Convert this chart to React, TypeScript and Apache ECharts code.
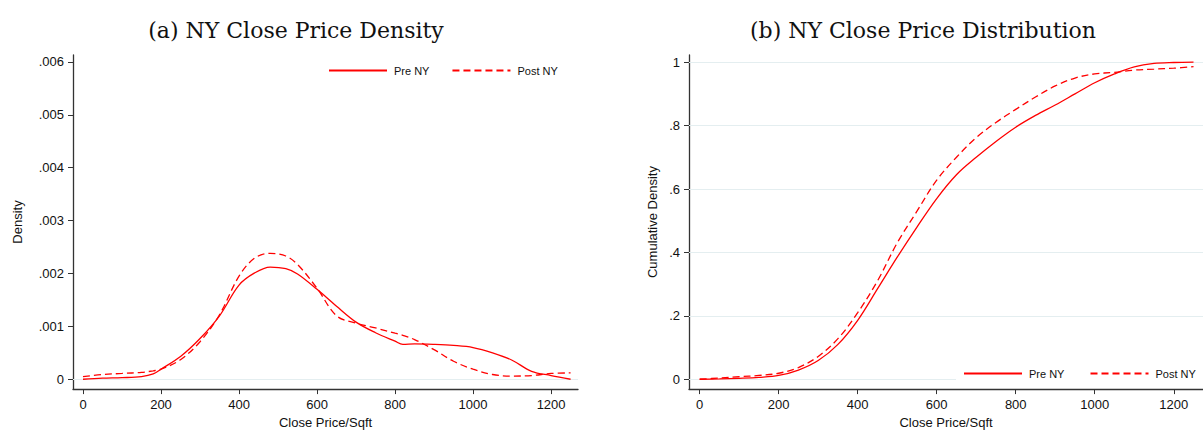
import React, { useEffect, useRef } from "react";
import * as echarts from "echarts";

const densX = [0, 50, 100, 150, 180, 200, 250, 300, 350, 400, 440, 480, 520, 550, 600, 650, 700, 750, 800, 820, 850, 900, 950, 1000, 1050, 1100, 1150, 1200, 1250];
const preDensity = [0.0, 0.00002, 0.00003, 0.00005, 0.0001, 0.00019, 0.00043, 0.00077, 0.0012, 0.00178, 0.00201, 0.00212, 0.00209, 0.00199, 0.0017, 0.00138, 0.00108, 0.00088, 0.00072, 0.00066, 0.00067, 0.00066, 0.00064, 0.0006, 0.0005, 0.00036, 0.00015, 0.00007, 0.0];
const postDensity = [0.00005, 0.00009, 0.00011, 0.00013, 0.00016, 0.00019, 0.00037, 0.00071, 0.00122, 0.00195, 0.00229, 0.00238, 0.00233, 0.00217, 0.00172, 0.0012, 0.00106, 0.00097, 0.00087, 0.00083, 0.00075, 0.00056, 0.00034, 0.00019, 0.00009, 0.00006, 0.00007, 0.00011, 0.00012];

const cdfX = [0, 50, 100, 150, 200, 250, 300, 350, 400, 450, 500, 550, 600, 650, 700, 750, 800, 850, 900, 950, 1000, 1050, 1100, 1150, 1200, 1250];
const preCdf = [0, 0.001, 0.003, 0.006, 0.012, 0.029, 0.059, 0.11, 0.186, 0.285, 0.385, 0.48, 0.57, 0.645, 0.7, 0.75, 0.795, 0.832, 0.865, 0.9, 0.935, 0.963, 0.985, 0.996, 0.999, 1.0];
const postCdf = [0, 0.004, 0.008, 0.012, 0.019, 0.037, 0.072, 0.128, 0.21, 0.31, 0.43, 0.53, 0.628, 0.7, 0.762, 0.81, 0.851, 0.89, 0.925, 0.95, 0.963, 0.968, 0.975, 0.978, 0.981, 0.986];

const xTicks = [0, 200, 400, 600, 800, 1000, 1200];
const densTicks = [0, 0.001, 0.002, 0.003, 0.004, 0.005, 0.006];
const cdfTicks = [0, 0.2, 0.4, 0.6, 0.8, 1];
const seriesNames = ["Pre NY", "Post NY"];
const titles = ["(a) NY Close Price Density", "(b) NY Close Price Distribution"];

const SANS = "Liberation Sans, Arial, sans-serif";
const SERIF = "DejaVu Serif, serif";
const RED = "#ff0000";
const AXIS = "#333333";
const GRIDC = "#e4eef0";

const fmt = (v: number) => (v === 0 ? "0" : String(+v.toFixed(4)).replace(/^0\./, "."));

export default function App() {
  const ref = useRef<HTMLDivElement>(null);
  useEffect(() => {
    document.body.style.margin = "0";
    const chart = echarts.init(ref.current!, null, { renderer: "svg" });
    const xAxisBase = (gi: number, min: number, max: number) => ({
      type: "value",
      gridIndex: gi,
      min,
      max,
      name: "Close Price/Sqft",
      nameLocation: "middle",
      nameGap: 22,
      nameTextStyle: { fontFamily: SANS, fontSize: 13, color: "#111" },
      axisLine: { show: true, onZero: false, lineStyle: { color: AXIS, width: 1.3 } },
      axisTick: { show: true, length: 5, customValues: xTicks, lineStyle: { color: AXIS, width: 1 } },
      axisLabel: { customValues: xTicks, margin: 9, fontFamily: SANS, fontSize: 13, color: "#111", formatter: (v: number) => String(v) },
      splitLine: { show: false },
    });
    const yAxisBase = (gi: number, min: number, max: number, ticks: number[], name: string, nameGap: number) => ({
      type: "value",
      gridIndex: gi,
      min,
      max,
      name,
      nameLocation: "middle",
      nameGap,
      nameTextStyle: { fontFamily: SANS, fontSize: 13, color: "#111" },
      axisLine: { show: true, onZero: false, lineStyle: { color: AXIS, width: 1.3 } },
      axisTick: { show: true, length: 5, customValues: ticks, lineStyle: { color: AXIS, width: 1 } },
      axisLabel: { customValues: ticks, margin: 9, fontFamily: SANS, fontSize: 13, color: "#111", formatter: fmt },
      splitLine: { show: false },
    });
    const gridMark = (ticks: number[]) => ({
      silent: true,
      symbol: "none",
      label: { show: false },
      lineStyle: { color: GRIDC, width: 1, type: "solid" },
      data: ticks.map((t) => ({ yAxis: t })),
      z: 1,
    });
    const line = (name: string, xs: number[], ys: number[], gi: number, dashed: boolean, marks?: number[]) => ({
      type: "line",
      name,
      xAxisIndex: gi,
      yAxisIndex: gi,
      data: xs.map((x, i) => [x, ys[i]]),
      showSymbol: false,
      symbol: "none",
      smooth: 0.35,
      lineStyle: { color: RED, width: 1.3, type: dashed ? [7, 4] : "solid" },
      itemStyle: { color: RED },
      markLine: marks ? gridMark(marks) : undefined,
      z: 3,
    });
    const legendBase = (left: number, top: number) => ({
      left,
      top,
      width: 320,
      orient: "horizontal",
      itemWidth: 58,
      itemHeight: 14,
      itemGap: 22,
      padding: [6, 8, 6, 7],
      backgroundColor: "#ffffff",
      textStyle: { fontFamily: SANS, fontSize: 11, color: "#111", padding: [0, 0, 0, 2] },
      itemStyle: { opacity: 0 },
      selectedMode: false,
    });
    const titleStyle = { fontFamily: SERIF, fontSize: 22, fontWeight: "normal", color: "#111" };
    chart.setOption({
      animation: false,
      backgroundColor: "#ffffff",
      title: [
        { text: titles[0], left: 291, top: 14, textAlign: "center", textStyle: titleStyle },
        { text: titles[1], left: 918, top: 14, textAlign: "center", textStyle: titleStyle },
      ],
      grid: [
        { left: 73, top: 55, width: 505, height: 340 },
        { left: 689, top: 55, width: 524, height: 340 },
      ],
      xAxis: [xAxisBase(0, -25.6, 1269), xAxisBase(1, -27, 1274)],
      yAxis: [
        yAxisBase(0, -0.000186, 0.00613, densTicks, "Density", 49),
        yAxisBase(1, -0.031, 1.0226, cdfTicks, "Cumulative Density", 30),
      ],
      legend: [
        { ...legendBase(321, 59), data: [{ name: seriesNames[0] }, { name: seriesNames[1] }] },
        { ...legendBase(956, 362), data: [{ name: seriesNames[0] + " " }, { name: seriesNames[1] + " " }] },
      ],
      series: [
        line(seriesNames[0], densX, preDensity, 0, false, densTicks),
        line(seriesNames[1], densX, postDensity, 0, true),
        line(seriesNames[0] + " ", cdfX, preCdf, 1, false, cdfTicks),
        line(seriesNames[1] + " ", cdfX, postCdf, 1, true),
      ],
    });
    return () => chart.dispose();
  }, []);
  return <div ref={ref} style={{ width: 1203, height: 434 }} />;
}
